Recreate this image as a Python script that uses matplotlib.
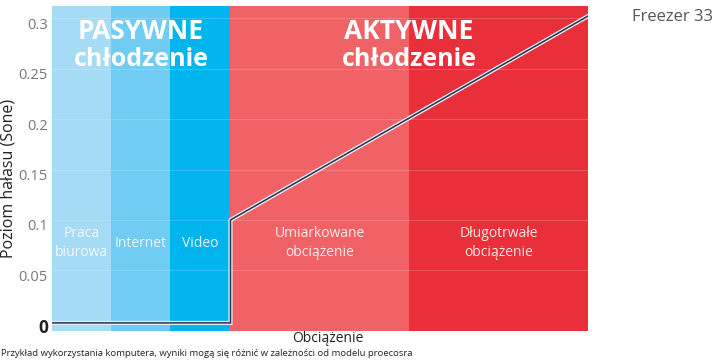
import matplotlib
matplotlib.use("Agg")
import matplotlib.pyplot as plt
import matplotlib.patheffects as pe
from matplotlib.transforms import ScaledTranslation

plt.rcParams['font.family'] = ['Open Sans', 'DejaVu Sans']

# usage bands (x = load, 0..100)
band_labels = ['Praca\nbiurowa', 'Internet', 'Video', 'Umiarkowane\nobciążenie', 'Długotrwałe\nobciążenie']
band_edges = [0, 11, 22, 33.3, 66.6, 100]
band_colors = ['#a5dbf5', '#70ccf3', '#00b5ee', '#f06265', '#e92f3a']

# noise curve
load = [0, 33.3, 33.3, 100]
noise = [-0.002, -0.002, 0.1, 0.302]

yticks = [0, 0.05, 0.1, 0.15, 0.2, 0.25, 0.3]
ytick_labels = ['0', '0.05', '0.1', '0.15', '0.2', '0.25', '0.3']

fig = plt.figure(figsize=(7.28, 3.61), dpi=100, facecolor='white')
ax = fig.add_axes([52 / 728, 1 - 331 / 361, 536 / 728, 325 / 361])

for i in range(len(band_labels)):
    ax.axvspan(band_edges[i], band_edges[i + 1], color=band_colors[i], lw=0, zorder=0)

for v in yticks[1:]:
    ax.axhline(v, color='white', alpha=0.22, lw=0.6, zorder=1)

ax.plot(load, noise, color='#27324d', lw=1.1, zorder=3, solid_joinstyle='miter',
        path_effects=[pe.Stroke(linewidth=3.0, foreground='#e8eef5'), pe.Normal()])

ax.set_xlim(0, 100)
ax.set_ylim(-0.010, 0.312)
for s in ax.spines.values():
    s.set_visible(False)
ax.set_xticks([])
ax.set_yticks(yticks)
ax.set_yticklabels(ytick_labels)
ax.tick_params(axis='y', length=0, pad=3, labelsize=10.5, labelcolor='#777777')
off = ScaledTranslation(0, -5 / 100, fig.dpi_scale_trans)
for t in ax.get_yticklabels():
    t.set_transform(t.get_transform() + off)
lab0 = ax.get_yticklabels()[0]
lab0.set_fontsize(12.5)
lab0.set_fontweight('bold')
lab0.set_color('#222222')

# band names
for i, name in enumerate(band_labels):
    cx = (band_edges[i] + band_edges[i + 1]) / 2
    ax.text(cx, 0.077, name, ha='center', va='center', fontsize=10, color='white',
            alpha=0.88, linespacing=1.35, zorder=4)

# cooling mode headers
for cx, top in [(16.6, 'PASYWNE'), (66.6, 'AKTYWNE')]:
    ax.text(cx, 0.287, top, ha='center', va='center', fontsize=19,
            fontweight='bold', color='white', zorder=4)
    ax.text(cx, 0.259, 'chłodzenie', ha='center', va='center', fontsize=18,
            fontweight='bold', color='white', zorder=4)

fig.text(9 / 728, 1 - 178 / 361, 'Poziom hałasu (Sone)', rotation=90, ha='center',
         va='center', fontsize=11.5, color='#222222')
fig.text(328 / 728, 1 - 339 / 361, 'Obciążenie', ha='center', va='center',
         fontsize=10, color='#222222')
fig.text(1 / 728, 1 - 354 / 361,
         'Przykład wykorzystania komputera, wyniki mogą się różnić w zależności od modelu proecosra',
         ha='left', va='center', fontsize=6.8, color='#222222')
fig.text(672 / 728, 1 - 17 / 361, 'Freezer 33', ha='center', va='center',
         fontsize=12, color='#555555')

fig.savefig('out.png', dpi=100, facecolor='white')
